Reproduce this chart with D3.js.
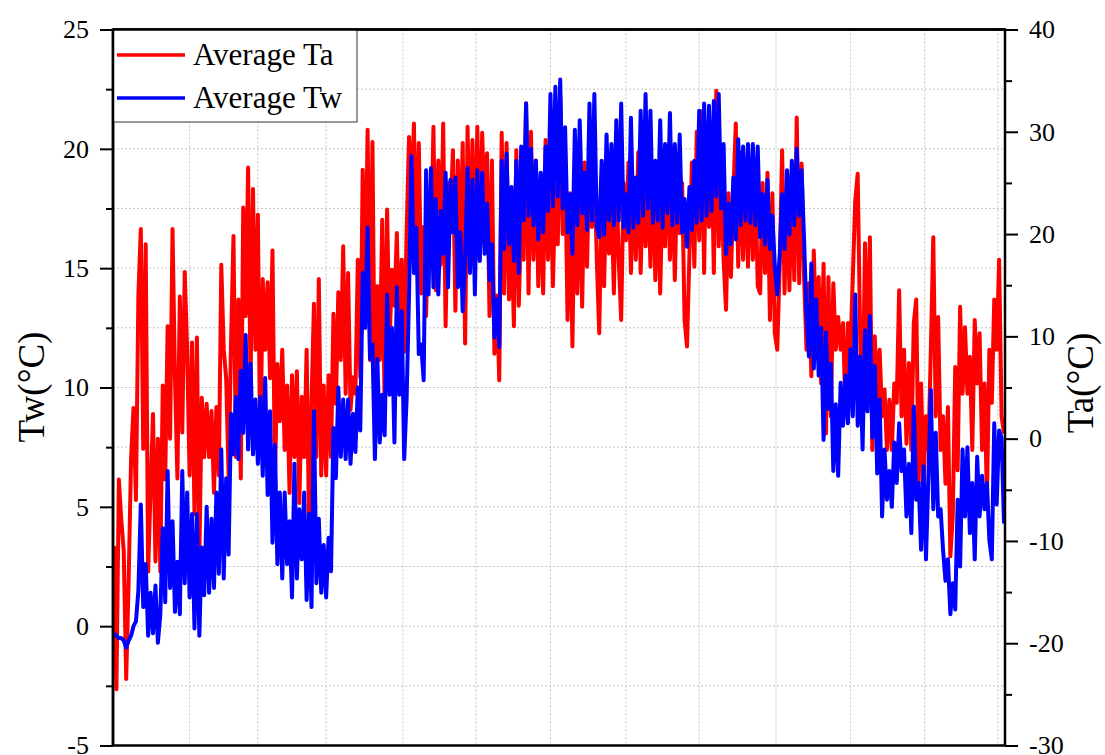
<!DOCTYPE html>
<html>
<head>
<meta charset="utf-8">
<script src="https://cdn.jsdelivr.net/npm/d3@7"></script>
<style>
  body { margin: 0; background: #fff; }
  svg { display: block; }
</style>
</head>
<body>
<svg id="chart" width="1105" height="755"></svg>
<script>
// daily average air temperature, one value per day (right axis)
const taValues = [
  -10.5, -24.5, -4, -8, -11, -23.5, -14, -2, 3, -6,
  14, 20.5, -1, 19, -13, -5, 2.4, -12, 0, -13,
  5.2, -4, 11, 0, 20.5, 6, -3.9, 13.9, 0.6, 16.3,
  8.7, -3.6, 9.4, -7.4, 9.9, -11.9, 4, -1.8, 3.4, -1.8,
  2.7, -5.3, 3.1, -3.6, 17, 8.7, 5.9, -3.6, 9.4, 19.8,
  -1.8, 13.6, -3.9, 22.6, 12, 26.5, 5.2, 24.4, 8.7, 21.9,
  -1.8, 15.6, 8.7, 15.3, 5.9, 18.4, -3.9, 7.3, 1.7, 8.7,
  -1.1, 5.2, -5.3, 6.2, -1.8, 6.6, -6.3, 4.1, -1.8, 8.7,
  -8.8, 3.4, 13.2, -1.8, 15.6, -3.6, 5.2, -3.6, 6.2, -1.8,
  12.2, 3.4, 14.3, 7.7, 18.8, 4.4, 16.2, 2.8, 6, 4.4,
  17.5, 6, 26.3, 12, 30.2, 7.7, 29, 2.8, 14.9, 7.7,
  21.4, 2.8, 22.4, 9.3, 16.5, 13, 20.1, 9.3, 17.5, 8.5,
  20.1, 29.5, 23, 30.8, 17.5, 28.9, 14.2, 20.7, 12, 24,
  17.5, 30.5, 14.5, 27.2, 17, 30.8, 11, 25, 22, 28.2,
  12.5, 27.2, 17.5, 28.9, 9.3, 30.5, 16.8, 29.2, 16.5, 30.5,
  17.5, 29.9, 21.7, 27.9, 12, 27.2, 8.3, 14, 5.7, 29.9,
  14.2, 28.9, 13.6, 20.1, 11, 28.2, 13, 21.4, 17.5, 32.8,
  14.2, 30, 17.5, 27.2, 14.9, 24, 14.2, 29.2, 17.5, 26,
  14.9, 24.6, 19, 33.5, 20, 28, 11.6, 24, 9, 26,
  14.2, 25, 12.9, 27, 16.8, 28, 20.7, 27, 17.5, 10.3,
  24, 14.9, 26, 18.1, 24, 14.2, 26, 17.5, 11.6, 25,
  19.4, 27, 16.2, 25, 17.5, 28, 16.2, 27, 18.8, 26,
  16.8, 27, 15.5, 25, 14.2, 25, 18.8, 28, 17.5, 26,
  15.5, 26, 20.1, 25, 11.6, 9, 18.1, 27, 16.8, 30,
  19.4, 32, 16.2, 31, 20.7, 30, 16.2, 34, 18.8, 26,
  17.5, 12.6, 24, 15.8, 24, 30.8, 16.8, 28, 17.5, 26,
  16.8, 27, 17.5, 26, 14.9, 14.2, 25, 16.2, 26, 11.6,
  24, 10.3, 8.7, 16.8, 28.2, 14.2, 24.3, 14.5, 26, 15.5,
  31.4, 15.2, 26.9, 15.8, 8.7, 15.2, 6.1, 18.4, 9.3, 15.8,
  5.4, 17.1, 0.5, 15.8, 2.2, 15.2, 8.7, 11.9, 8.7, 11.3,
  2.2, 11.3, 8.7, 15.8, 23.3, 25.9, 10.3, 2.2, 19.1, 7,
  19.7, -1.1, 10, 3.8, 8.7, 2.2, 4.8, -1.1, 3.8, -1.1,
  5.4, 3.5, 14.5, 2.2, 8.7, -0.5, 7.4, -1.1, 11.3, 13.6,
  -4.4, 5.4, -4.4, 2.2, -1.1, 8.7, 19.7, 2.2, 11.9, -1.1,
  2.2, -4.4, 3.1, -11.5, -7.6, 7, -3.1, 12.9, 4.4, 10.9,
  4.4, 8, -1.1, 11.6, 5.4, 10.3, -1.1, 5.4, -6, 8.7,
  3.5, 13.6, 8.7, 17.5, 2.2, 0.5
];

// daily average water temperature (left axis)
const twValues = [
  -0.3, -0.4, -0.5, -0.5, -0.6, -0.9, -0.6, -0.4, 0, 0.2,
  1.5, 5.1, 0.8, 2.6, -0.4, 1.4, -0.3, 1.7, -0.7, 0.5,
  4.1, 1, 6.5, 1.6, 4.4, 0.6, 2.7, 0.5, 6.5, 1.8,
  5.6, 1.2, 4.7, -0.1, 4.7, -0.4, 3.3, 1.3, 5, 1.4,
  4.5, 1.6, 5.6, 2.2, 7.4, 2, 6.2, 3, 8.9, 7.2,
  9.6, 7, 10.7, 8.1, 12.2, 7.4, 11, 7.2, 9.5, 6.8,
  9.6, 6.3, 10.4, 5.5, 9, 3.5, 7.6, 2.6, 5.6, 2,
  5.6, 2.6, 4.4, 1.2, 6.8, 2, 4.9, 2.8, 5.6, 1.1,
  4.7, 0.8, 9, 1.8, 4.5, 1.4, 3.4, 1.2, 3.7, 2.3,
  8.3, 6.2, 10, 7.1, 9.5, 7, 9.5, 6.8, 8.9, 7.3,
  10, 8.2, 14.8, 12.5, 16.7, 11.2, 11.8, 7, 11.2, 7.7,
  9.7, 8, 13.9, 9.7, 12.5, 7.7, 14.2, 9.7, 13.2, 7,
  9.5, 13.9, 19.7, 14.8, 16.7, 11.4, 11.8, 10.3, 19.1, 13.9,
  19.2, 14.2, 17.9, 13.9, 17.4, 15.6, 19, 14.2, 18.7, 16.5,
  18.8, 14.2, 16.5, 13.2, 15.3, 19.2, 14.8, 18.7, 13.9, 19.1,
  15.3, 19, 15.6, 17.7, 14.5, 16, 12.1, 13.7, 11.7, 19.5,
  15.8, 19.8, 16, 18.4, 15.3, 19.5, 14.8, 20.1, 17, 21.9,
  17.2, 20, 16.8, 19.5, 16.2, 19, 16.5, 20.1, 17.4, 22.3,
  17.6, 22.6, 18, 22.9, 17.5, 20.9, 16.5, 18.1, 15.6, 20.8,
  16.8, 21.2, 17.3, 19, 16.6, 21.9, 17, 22.3, 16.7, 16.3,
  19.5, 16.4, 20.6, 17, 20.2, 16.8, 21.2, 17, 21.9, 16.7,
  18.1, 16.5, 21.3, 16.7, 18.8, 16.9, 21.6, 17.2, 22.3, 17.5,
  21.6, 16.9, 19.5, 17, 21.2, 16.7, 20.2, 17.3, 21.5, 16.8,
  20.2, 16.9, 20.6, 16.5, 17.9, 15.9, 18.4, 16.6, 19.5, 16.9,
  21.6, 17, 21.9, 17.2, 21.8, 17.4, 22, 18, 22.3, 17.5,
  20.2, 15.6, 17.7, 16, 18.8, 16.2, 20.4, 16.8, 20.1, 17,
  20.2, 16.9, 20.2, 16.8, 20.1, 16.3, 18.1, 16, 18.7, 15.8,
  17.2, 15.1, 13.9, 15.5, 18.1, 15.8, 19.1, 16.4, 19.5, 16.8,
  20, 17.2, 19.1, 16.2, 13, 11.3, 15.2, 10.8, 13.7, 10.5,
  12.5, 7.8, 12.3, 9.1, 11, 6.5, 9.3, 6.3, 10.2, 8.4,
  10.5, 8.5, 11.6, 8.8, 13.9, 8.4, 11.3, 7.4, 12.4, 9,
  13, 7.9, 10.9, 6.4, 9.5, 4.6, 7.4, 5.3, 6.5, 5,
  7.7, 6, 8.5, 6.5, 7.4, 4.6, 6.8, 3.9, 9.2, 5.3,
  6, 3.2, 6.7, 2.8, 6.3, 9.9, 4.9, 8.1, 4.6, 4.9,
  3.2, 1.9, 2.8, 0.5, 1.8, 0.7, 5.3, 2.5, 7.4, 4.6,
  7.5, 3.9, 6, 2.8, 7.1, 4.6, 6.3, 4.9, 6, 3.6,
  2.8, 8.5, 5.1, 8.2, 7.9, 4.3
];

// vertical grid positions, in days
const gridDays = [31, 59, 87, 118.5, 148.5, 179, 210, 240, 271.5, 302, 332.5, 362.5];

const twTicks = [-5, 0, 5, 10, 15, 20, 25];
const twMinor = [-2.5, 2.5, 7.5, 12.5, 17.5, 22.5];
const taTicks = [-30, -20, -10, 0, 10, 20, 30, 40];
const taMinor = [-25, -15, -5, 5, 15, 25, 35];

const seriesNames = ["Average Ta", "Average Tw"];
const seriesColors = ["#ff0000", "#0000ff"];

const FONT = '"Liberation Serif", "Times New Roman", serif';

var margin = { top: 29.5, right: 100, bottom: 9.5, left: 113 },
  width = 1105 - margin.left - margin.right,
  height = 755 - margin.top - margin.bottom;

var svg = d3.select("#chart")
  .append("g")
  .attr("transform", "translate(" + margin.left + "," + margin.top + ")");

var x = d3.scaleLinear()
  .domain([0, taValues.length - 1])
  .range([1, width - 1]);

var yTw = d3.scaleLinear().domain([-5, 25]).range([height, 0]);
var yTa = d3.scaleLinear().domain([-30, 40]).range([height, 0]);

// grid lines
var grid = svg.append("g")
  .attr("stroke", "#c4c4c4")
  .attr("stroke-width", 1)
  .attr("stroke-dasharray", "2,2");

grid.selectAll("line.h")
  .data(twTicks.concat(twMinor).filter(v => v > -5 && v < 25))
  .enter().append("line")
  .attr("class", "h")
  .attr("x1", 0).attr("x2", width)
  .attr("y1", d => yTw(d)).attr("y2", d => yTw(d));

grid.selectAll("line.v")
  .data(gridDays)
  .enter().append("line")
  .attr("class", "v")
  .attr("y1", 0).attr("y2", height)
  .attr("x1", d => x(d)).attr("x2", d => x(d));

svg.append("clipPath").attr("id", "plot-clip")
  .append("rect").attr("width", width).attr("height", height);

var lineTa = d3.line().x((d, i) => x(i)).y(d => yTa(d));
var lineTw = d3.line().x((d, i) => x(i)).y(d => yTw(d));

var plot = svg.append("g").attr("clip-path", "url(#plot-clip)");

plot.append("path")
  .datum(taValues)
  .attr("d", lineTa)
  .attr("fill", "none")
  .attr("stroke", seriesColors[0])
  .attr("stroke-width", 4)
  .attr("stroke-linejoin", "round");

plot.append("path")
  .datum(twValues)
  .attr("d", lineTw)
  .attr("fill", "none")
  .attr("stroke", seriesColors[1])
  .attr("stroke-width", 4)
  .attr("stroke-linejoin", "round");

// frame
svg.append("rect")
  .attr("width", width)
  .attr("height", height)
  .attr("fill", "none")
  .attr("stroke", "#000")
  .attr("stroke-width", 2.5);

function styleAxis(g) {
  g.attr("font-family", FONT).attr("font-size", 26);
  g.select(".domain").remove();
  g.selectAll(".tick line").attr("stroke", "#000").attr("stroke-width", 2);
  g.selectAll(".tick text").attr("fill", "#000");
}

// left axis
svg.append("g")
  .call(d3.axisLeft(yTw).tickValues(twTicks).tickSize(13).tickPadding(11).tickFormat(d => String(d)))
  .call(styleAxis);
svg.append("g")
  .call(d3.axisLeft(yTw).tickValues(twMinor).tickSize(7).tickFormat(""))
  .call(styleAxis);

// right axis
svg.append("g")
  .attr("transform", "translate(" + width + ",0)")
  .call(d3.axisRight(yTa).tickValues(taTicks).tickSize(13).tickPadding(11).tickFormat(d => String(d)))
  .call(styleAxis);
svg.append("g")
  .attr("transform", "translate(" + width + ",0)")
  .call(d3.axisRight(yTa).tickValues(taMinor).tickSize(7).tickFormat(""))
  .call(styleAxis);

// axis titles
svg.append("text")
  .attr("transform", "translate(" + (44 - margin.left) + "," + (387 - margin.top) + ") rotate(-90)")
  .attr("text-anchor", "middle")
  .attr("font-family", FONT).attr("font-size", 37)
  .text("Tw(°C)");

svg.append("text")
  .attr("transform", "translate(" + (1093 - margin.left) + "," + (383 - margin.top) + ") rotate(-90)")
  .attr("text-anchor", "middle")
  .attr("font-family", FONT).attr("font-size", 37)
  .text("Ta(°C)");

// legend
var legend = svg.append("g");
legend.append("rect")
  .attr("x", 0).attr("y", 0)
  .attr("width", 244).attr("height", 92.5)
  .attr("fill", "#fff")
  .attr("stroke", "#333")
  .attr("stroke-width", 1);

var items = legend.selectAll("g.item")
  .data(seriesNames)
  .enter().append("g")
  .attr("class", "item")
  .attr("transform", (d, i) => "translate(0," + (25.5 + i * 43) + ")");

items.append("line")
  .attr("x1", 4).attr("x2", 72)
  .attr("stroke", (d, i) => seriesColors[i])
  .attr("stroke-width", 3.5);

items.append("text")
  .attr("x", 80).attr("y", 10)
  .attr("font-family", FONT).attr("font-size", 31)
  .text(d => d);

// redraw frame edges over legend
svg.append("line")
  .attr("x1", 0).attr("x2", width)
  .attr("stroke", "#000").attr("stroke-width", 2.5);
svg.append("line")
  .attr("y1", 0).attr("y2", height)
  .attr("stroke", "#000").attr("stroke-width", 2.5);
</script>
</body>
</html>
